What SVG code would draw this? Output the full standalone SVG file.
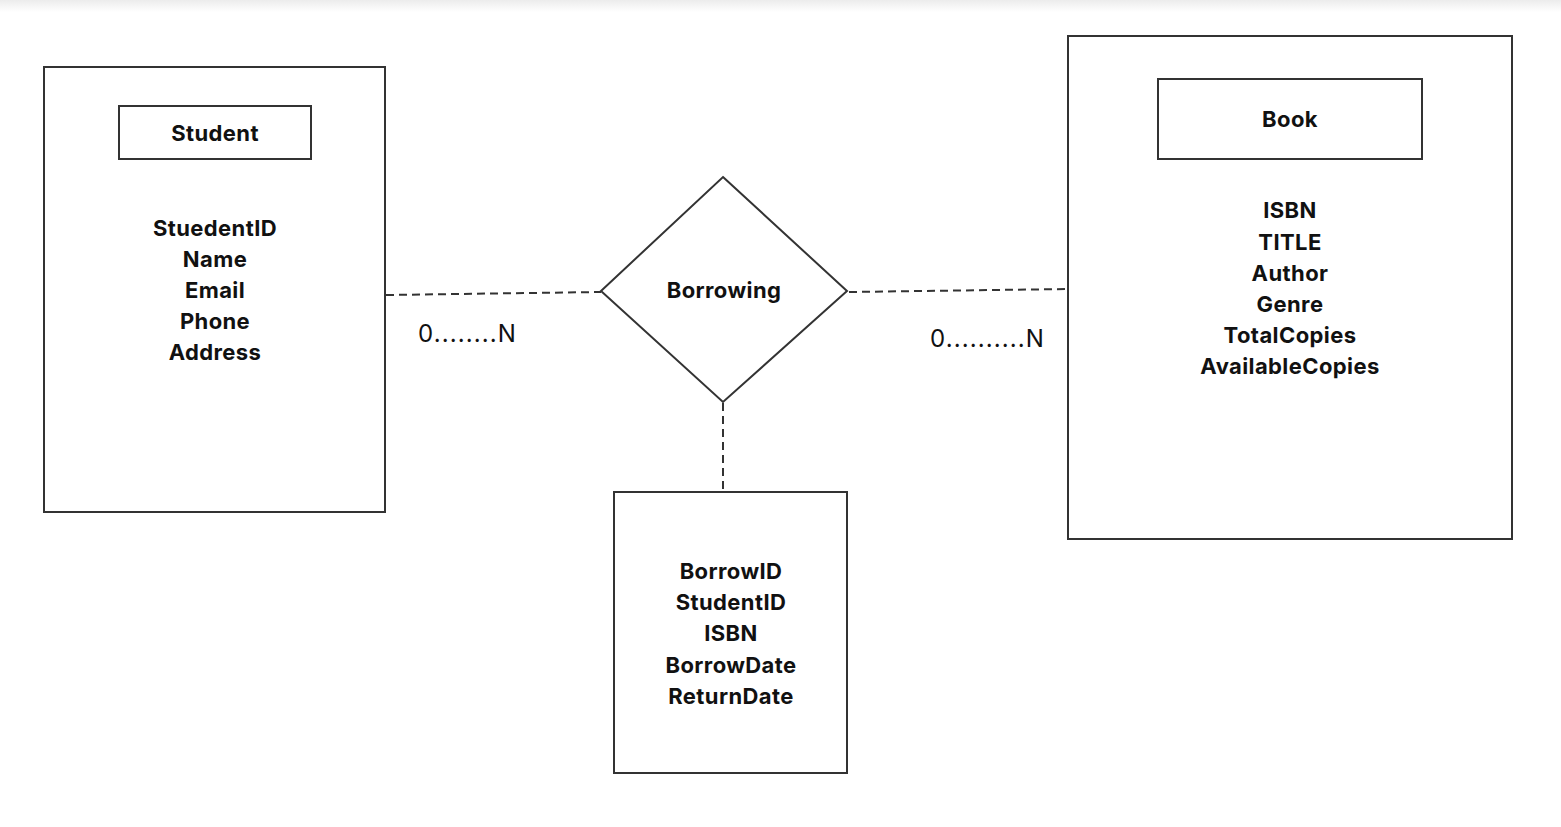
<svg xmlns="http://www.w3.org/2000/svg" width="1561" height="827" viewBox="0 0 1561 827">
<style>
.box{fill:#fff;stroke:#333;stroke-width:2}
.t{font-family:Inter,"Liberation Sans",sans-serif;font-weight:700;font-size:22px;letter-spacing:0.4px;fill:#111;text-anchor:middle}
.c{stroke:#333;stroke-width:2;stroke-dasharray:8 5;fill:none}
.lbl{font-family:Inter,"Liberation Sans",sans-serif;font-size:24px;letter-spacing:1.1px;fill:#111}
</style>
<defs>
<linearGradient id="sh" x1="0" y1="0" x2="0" y2="1">
<stop offset="0" stop-color="#ececec"/>
<stop offset="1" stop-color="#fff"/>
</linearGradient>
</defs>
<rect width="1561" height="827" fill="#fff"/>
<rect width="1561" height="12" fill="url(#sh)"/>
<g id="connectors">
<line class="c" x1="386" y1="295" x2="601" y2="292"/>
<line class="c" x1="849" y1="292" x2="1067" y2="289"/>
<line class="c" x1="723" y1="403" x2="723" y2="492"/>
<text class="lbl" x="418" y="342">0........N</text>
<text class="lbl" x="930" y="347">0..........N</text>
</g>
<g id="student">
<rect class="box" x="44" y="67" width="341" height="445"/>
<rect class="box" x="119" y="106" width="192" height="53"/>
<text class="t" x="215" y="141">Student</text>
<text class="t" x="215" y="236">StuedentID</text>
<text class="t" x="215" y="267">Name</text>
<text class="t" x="215" y="298">Email</text>
<text class="t" x="215" y="329">Phone</text>
<text class="t" x="215" y="360">Address</text>
</g>
<g id="borrowing">
<polygon class="box" points="723,177 847,291 723,402 601,291"/>
<text class="t" x="724" y="298">Borrowing</text>
</g>
<g id="borrow-attrs">
<rect class="box" x="614" y="492" width="233" height="281"/>
<text class="t" x="731" y="579">BorrowID</text>
<text class="t" x="731" y="610">StudentID</text>
<text class="t" x="731" y="641">ISBN</text>
<text class="t" x="731" y="673">BorrowDate</text>
<text class="t" x="731" y="704">ReturnDate</text>
</g>
<g id="book">
<rect class="box" x="1068" y="36" width="444" height="503"/>
<rect class="box" x="1158" y="79" width="264" height="80"/>
<text class="t" x="1290" y="127">Book</text>
<text class="t" x="1290" y="218">ISBN</text>
<text class="t" x="1290" y="250">TITLE</text>
<text class="t" x="1290" y="281">Author</text>
<text class="t" x="1290" y="312">Genre</text>
<text class="t" x="1290" y="343">TotalCopies</text>
<text class="t" x="1290" y="374">AvailableCopies</text>
</g>
</svg>
